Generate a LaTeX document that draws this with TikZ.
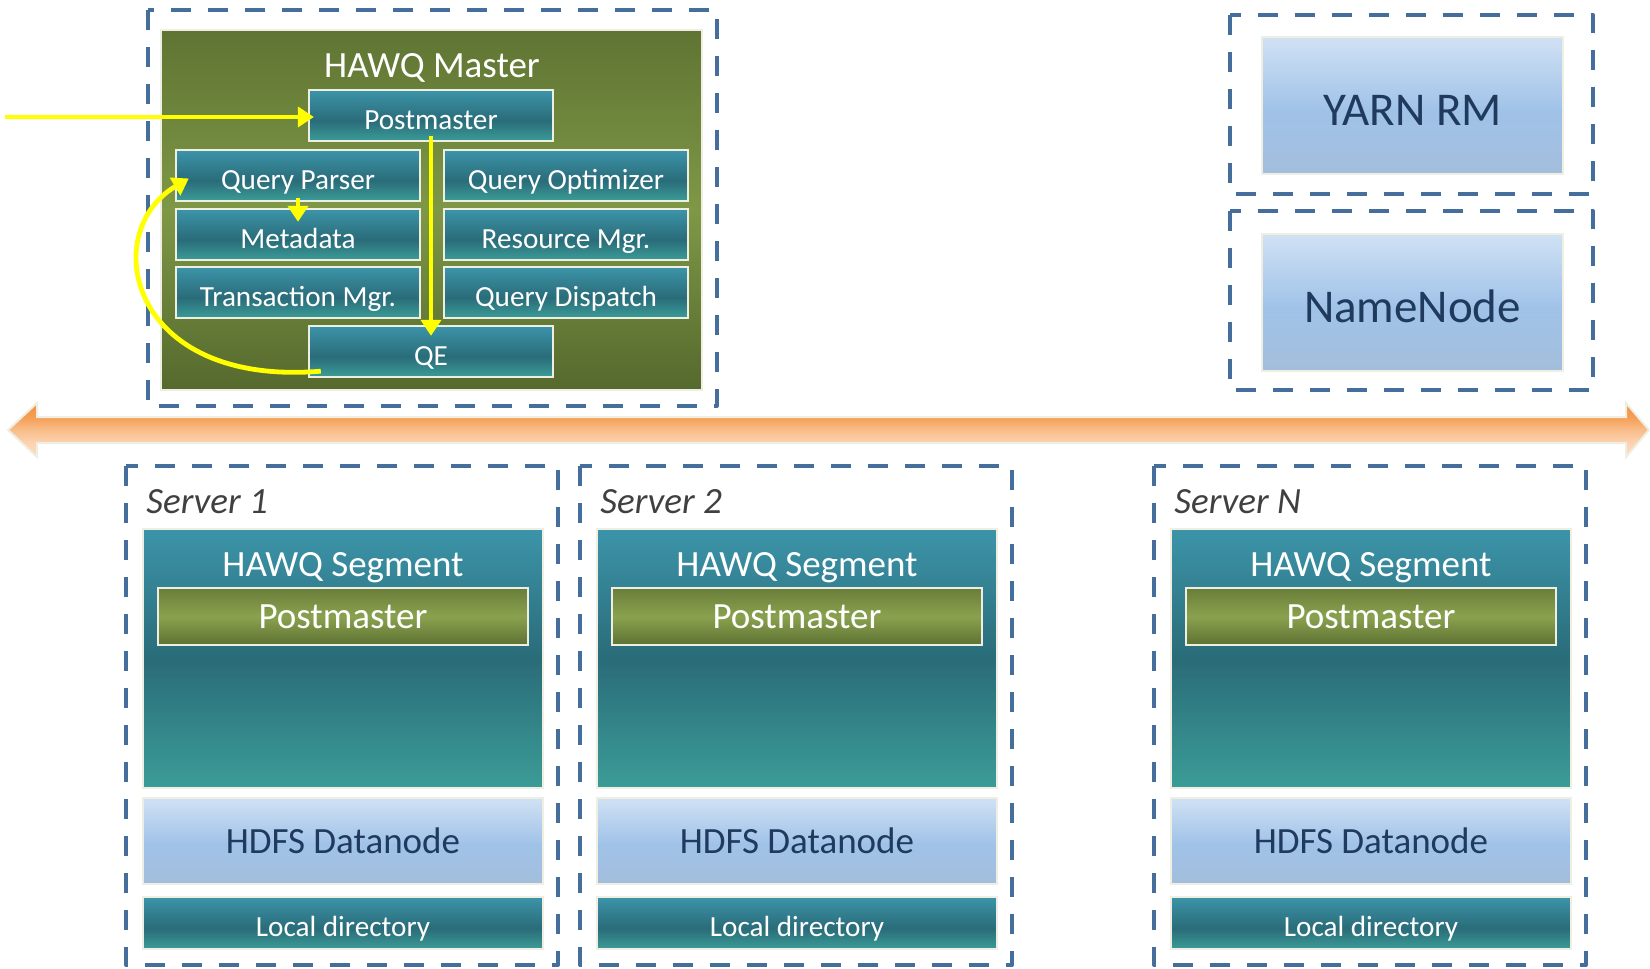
\documentclass[tikz,border=0pt]{standalone}
\usepackage{fontspec}
\setmainfont{Carlito}
\usetikzlibrary{arrows.meta}

\definecolor{dashblue}{HTML}{466E9C}
\definecolor{ybright}{HTML}{FFFF00}
\definecolor{bordc}{HTML}{EEEEE2}
\definecolor{navytxt}{HTML}{1F3A5C}
\definecolor{graytxt}{HTML}{404040}
\definecolor{tealT}{HTML}{3C94A9}
\definecolor{tealM}{HTML}{2A6C79}
\definecolor{tealB}{HTML}{3B9C97}
\definecolor{blueT}{HTML}{D0E1F4}
\definecolor{blueM}{HTML}{A0C2E8}
\definecolor{blueB}{HTML}{A3BEDC}
\definecolor{gT}{HTML}{5F7433}
\definecolor{gM}{HTML}{7E9846}
\definecolor{gB}{HTML}{55692D}
\definecolor{pgT}{HTML}{697D39}
\definecolor{pgM}{HTML}{8AA24E}
\definecolor{pgB}{HTML}{5D7132}
\definecolor{orA}{HTML}{F39040}
\definecolor{orB}{HTML}{F59E55}
\definecolor{orC}{HTML}{F9BD8A}
\definecolor{orD}{HTML}{FCD3B1}
\definecolor{orE}{HTML}{FDDCC0}

\pgfdeclareverticalshading{tealsh}{100bp}{color(0bp)=(tealB); color(25bp)=(tealB); color(45bp)=(tealM); color(75bp)=(tealT); color(100bp)=(tealT)}
\pgfdeclareverticalshading{segsh}{100bp}{color(0bp)=(tealB); color(25bp)=(tealB); color(50bp)=(tealM); color(75bp)=(tealT); color(100bp)=(tealT)}
\pgfdeclareverticalshading{bluesh}{100bp}{color(0bp)=(blueB); color(25bp)=(blueB); color(48bp)=(blueM); color(75bp)=(blueT); color(100bp)=(blueT)}
\pgfdeclareverticalshading{greensh}{100bp}{color(0bp)=(gB); color(25bp)=(gB); color(50bp)=(gM); color(75bp)=(gT); color(100bp)=(gT)}
\pgfdeclareverticalshading{pgreensh}{100bp}{color(0bp)=(pgB); color(25bp)=(pgB); color(50bp)=(pgM); color(75bp)=(pgT); color(100bp)=(pgT)}
\pgfdeclareverticalshading{orsh}{100bp}{color(0bp)=(orE); color(25bp)=(orE); color(38bp)=(orD); color(50bp)=(orC); color(62bp)=(orB); color(75bp)=(orA); color(100bp)=(orA)}

\newcommand\fsS{\fontsize{14.6pt}{17pt}\selectfont}
\newcommand\fsM{\fontsize{18.5pt}{22pt}\selectfont}
\newcommand\fsL{\fontsize{23.5pt}{28pt}\selectfont}

\tikzset{
  dashbox/.style={draw=dashblue, line width=2pt, dash pattern=on 10pt off 8.5pt, line join=round},
  boxbase/.style={draw=bordc, line width=1.2pt, inner sep=0pt},
  tealbox/.style={boxbase, shading=tealsh, text=white, font=\fsS, text height=16.2pt, text depth=2.6pt, minimum width=122pt, minimum height=25.5pt},
  segbox/.style={boxbase, shading=segsh, minimum width=200pt, minimum height=129.5pt},
  locbox/.style={boxbase, shading=tealsh, text=white, font=\fsS, text height=16.2pt, text depth=2.6pt, minimum width=200pt, minimum height=26pt},
  hdfsbox/.style={boxbase, shading=bluesh, text=navytxt, font=\fsM, text height=16.4pt, text depth=3.5pt, minimum width=200pt, minimum height=43pt},
  bigblue/.style={boxbase, shading=bluesh, text=navytxt, font=\fsL, text height=24.9pt, text depth=4.5pt, minimum width=150.5pt, minimum height=68.5pt},
  segpm/.style={boxbase, shading=pgreensh, text=white, font=\fsM, text height=15.4pt, text depth=3.5pt, minimum width=185pt, minimum height=28.5pt},
  masterbox/.style={boxbase, shading=greensh, minimum width=270.5pt, minimum height=180pt},
  titletext/.style={inner sep=0pt, anchor=base, text=white, font=\fsM},
  serverlabel/.style={inner sep=0pt, anchor=base west, text=graytxt, font=\fsM\itshape},
  yarrow/.style={draw=ybright, line width=2.4pt, -{Triangle[length=8pt,width=10pt]}},
}

\begin{document}
\begin{tikzpicture}[x=0.5pt,y=-0.5pt]
\useasboundingbox (0,0) rectangle (1650,969);

% ---------- HAWQ master ----------
\draw[dashbox] (148,10) rectangle (717,406);
\node[masterbox] (master) at (431.5,210) {};
\node[titletext] (mtitle) at (432,77) {HAWQ Master};
\node[tealbox] (pm) at (431,115.5) {Postmaster};
\node[tealbox] (qp) at (298,175.5) {Query Parser};
\node[tealbox] (qo) at (566,175.5) {Query Optimizer};
\node[tealbox] (md) at (298,234.5) {Metadata};
\node[tealbox] (rm) at (566,234.5) {Resource Mgr.};
\node[tealbox] (tm) at (298,292.5) {Transaction Mgr.};
\node[tealbox] (qd) at (566,292.5) {Query Dispatch};
\node[tealbox] (qe) at (431,351.5) {QE};

\coordinate (inp) at (5,117);
\draw[yarrow] (inp) -- ([xshift=3pt]inp -| pm.west);
\draw[yarrow] ([yshift=3pt]pm.south) -- ([yshift=-5.5pt]qe.north);
\draw[yarrow] ([yshift=2pt]qp.south) -- ([yshift=-7pt]md.north);
\draw[yarrow] ([xshift=6.5pt,yshift=3.5pt]qe.south west) .. controls (128,387) and (98,232) .. ([xshift=7pt,yshift=-1.5pt]qp.west);

% ---------- YARN RM / NameNode ----------
\draw[dashbox] (1230,15) rectangle (1593,194);
\node[bigblue] (yarn) at (1412.5,105.5) {YARN RM};
\draw[dashbox] (1230,211) rectangle (1593,390);
\node[bigblue] (nn) at (1412.5,302.5) {NameNode};

% ---------- orange bus ----------
\path[draw=bordc, line width=1pt, shading=orsh]
  (8,430) -- (37,403) -- (37,417) -- (1626,417) -- (1626,403) -- (1649,430)
  -- (1626,457) -- (1626,443) -- (37,443) -- (37,457) -- cycle;

% ---------- servers ----------
\foreach \x/\n/\lab in {126/a/Server 1, 580/b/Server 2, 1154/c/Server N}{
  \draw[dashbox] (\x,466) rectangle (\x+432,965);
  \node[serverlabel] (slab\n) at (\x+20,513) {\lab};
  \node[segbox] (seg\n) at (\x+217,658.5) {};
  \node[titletext] (segt\n) at (\x+217,576) {HAWQ Segment};
  \node[segpm] (spm\n) at (\x+217,616.5) {Postmaster};
  \node[hdfsbox] (hdfs\n) at (\x+217,841) {HDFS Datanode};
  \node[locbox] (loc\n) at (\x+217,923) {Local directory};
}
\end{tikzpicture}
\end{document}
